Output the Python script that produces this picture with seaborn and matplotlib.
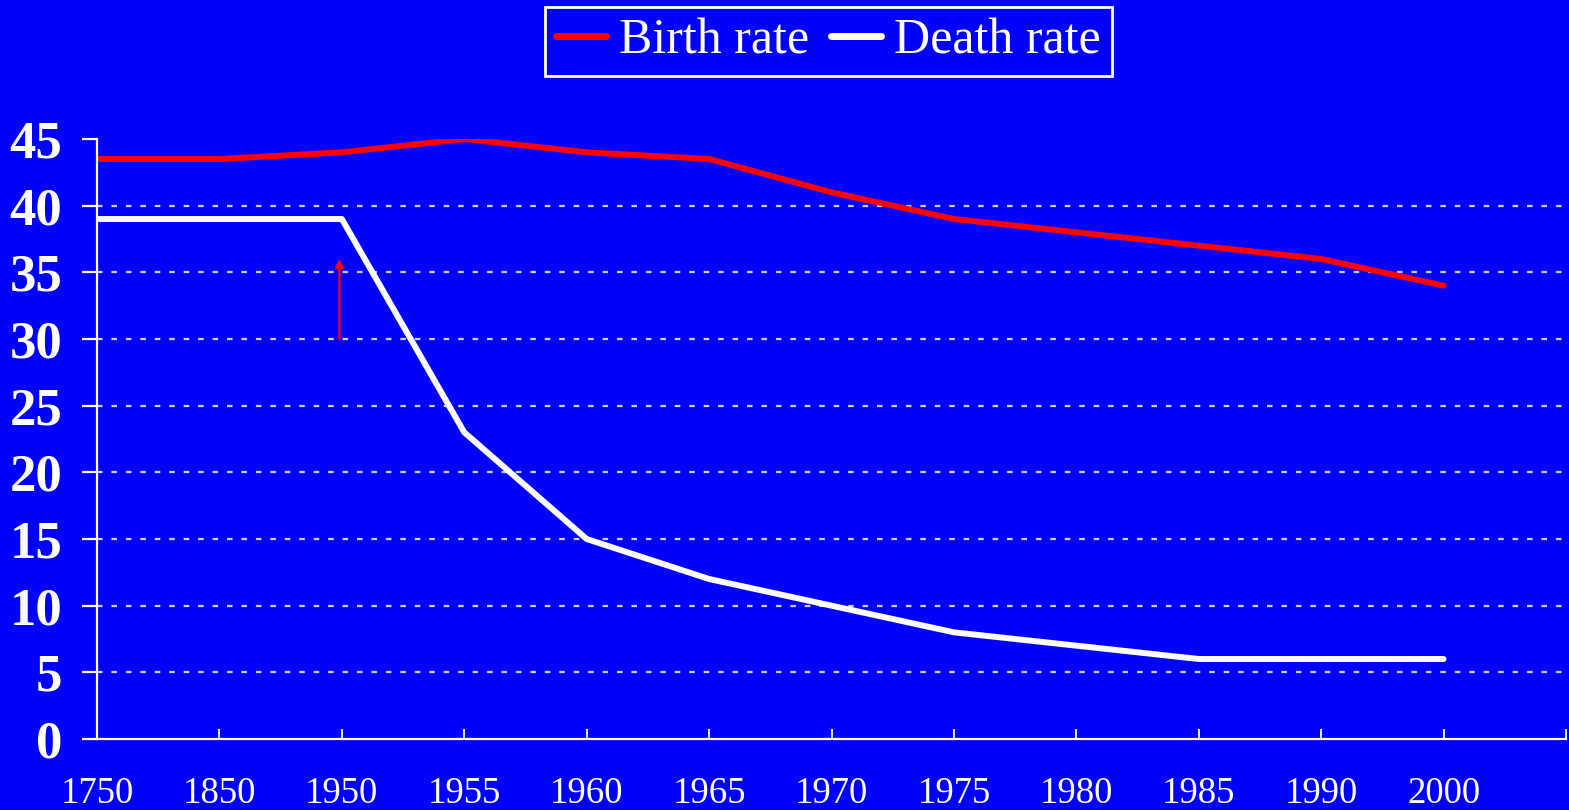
import pandas as pd
import matplotlib.pyplot as plt
import seaborn as sns

# --- DATA ---
years = ["1750", "1850", "1950", "1955", "1960", "1965", "1970",
         "1975", "1980", "1985", "1990", "2000"]
birth_rate = [43.5, 43.5, 44, 45, 44, 43.5, 41, 39, 38, 37, 36, 34]
death_rate = [39, 39, 39, 23, 15, 12, 10, 8, 7, 6, 6, 6]
series_names = ["Birth rate", "Death rate"]
y_ticks = [0, 5, 10, 15, 20, 25, 30, 35, 40, 45]

BLUE = "#0000FF"

df = pd.DataFrame({
    "Year": years * 2,
    "Rate": birth_rate + death_rate,
    "Series": [series_names[0]] * len(years) + [series_names[1]] * len(years),
})

sns.set_style("white")
plt.rcParams["font.family"] = ["Liberation Serif", "DejaVu Serif"]

fig = plt.figure(figsize=(15.69, 8.10), dpi=100, facecolor=BLUE)
ax = fig.add_axes([97 / 1569, 71 / 810, (1566 - 97) / 1569, 600 / 810])
ax.set_facecolor(BLUE)

sns.lineplot(data=df, x="Year", y="Rate", hue="Series", sort=False,
             palette={"Birth rate": "#FF0000", "Death rate": "white"},
             linewidth=4.3, ax=ax, legend=False)

# small red arrow at 1950
ax.annotate("", xy=(1.98, 36), xytext=(1.98, 30),
            arrowprops=dict(arrowstyle="-|>", color="#FF0000", lw=1.6,
                            mutation_scale=12, shrinkA=0, shrinkB=0))

ax.set_xlim(0, len(years))
ax.set_ylim(0, 45)
ax.set_xticks(range(len(years) + 1))
ax.set_xticklabels(years + [""])
ax.set_yticks(y_ticks)
ax.set_yticklabels([str(t) for t in y_ticks])
ax.set_xlabel("")
ax.set_ylabel("")

# dotted gridlines
for t in y_ticks[1:-1]:
    ax.axhline(t, color="#D0D0D0", lw=1.6, ls=(0, (2.5, 4)), zorder=0.5)

for s in ["top", "right"]:
    ax.spines[s].set_visible(False)
for s in ["left", "bottom"]:
    ax.spines[s].set_color("white")
    ax.spines[s].set_linewidth(1.6)

ax.tick_params(axis="y", left=True, direction="out", length=11, width=1.6, color="white",
               labelcolor="white", labelsize=38, pad=14)
ax.tick_params(axis="x", bottom=True, direction="in", length=7, width=1.3, color="white",
               labelcolor="white", labelsize=26.5, pad=27)
for lbl in ax.get_yticklabels():
    lbl.set_fontweight("bold")

handles = [plt.Line2D([], [], color="#FF0000", lw=5),
           plt.Line2D([], [], color="white", lw=5)]
leg = fig.legend(handles, series_names, loc="center", bbox_to_anchor=(0.528, 0.949),
                 ncol=2, fontsize=36, frameon=True, fancybox=False,
                 facecolor=BLUE, edgecolor="white", framealpha=1,
                 handlelength=1.0, handletextpad=0.25, columnspacing=0.45,
                 borderpad=0.22, labelcolor="white")
leg.get_frame().set_linewidth(2)

fig.savefig("out.png", dpi=100, facecolor=BLUE)
